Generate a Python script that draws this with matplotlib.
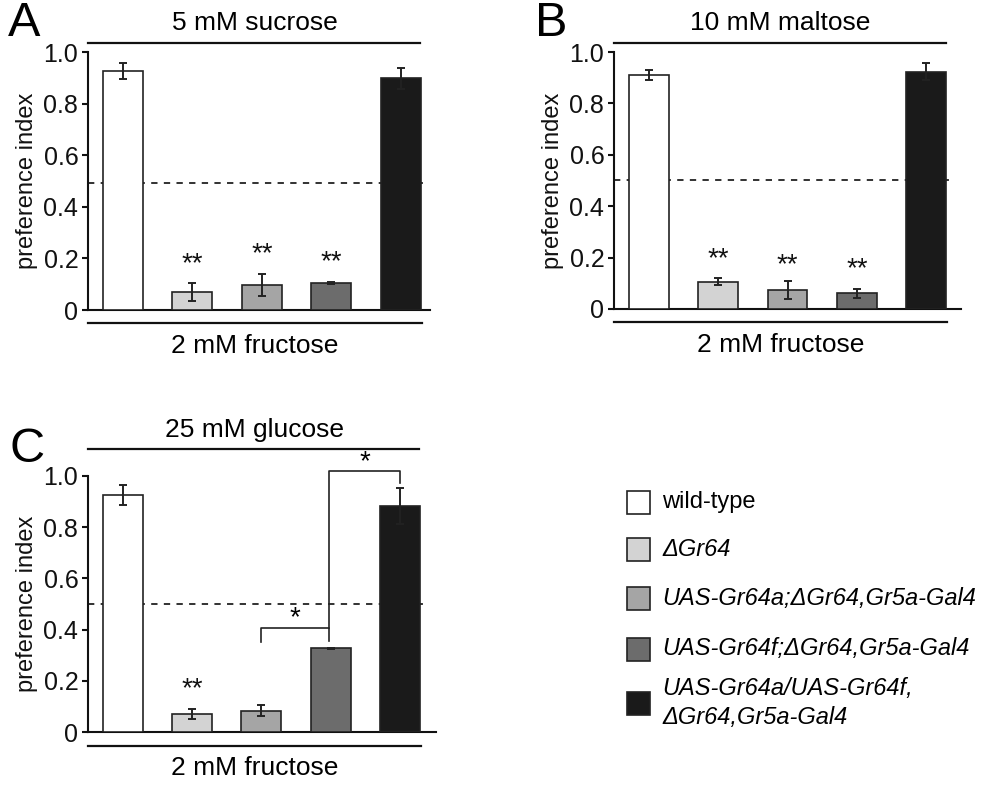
import matplotlib
matplotlib.use("Agg")
import matplotlib.pyplot as plt
from matplotlib.patches import Rectangle

plt.rcParams['font.family'] = ['Liberation Sans', 'DejaVu Sans']

# genotypes, in bar order
genotypes = ["wild-type", "\u0394Gr64", "UAS-Gr64a;\u0394Gr64,Gr5a-Gal4",
             "UAS-Gr64f;\u0394Gr64,Gr5a-Gal4",
             "UAS-Gr64a/UAS-Gr64f,\n\u0394Gr64,Gr5a-Gal4"]
colors = ["#ffffff", "#d3d3d3", "#a5a5a5", "#6c6c6c", "#1a1a1a"]

# preference index values
sucrose_mean = [0.925, 0.068, 0.097, 0.106, 0.898]
sucrose_err = [0.031, 0.035, 0.044, 0.004, 0.040]
maltose_mean = [0.911, 0.106, 0.074, 0.061, 0.923]
maltose_err = [0.020, 0.014, 0.036, 0.017, 0.033]
glucose_mean = [0.925, 0.071, 0.084, 0.327, 0.883]
glucose_err = [0.040, 0.020, 0.022, 0.003, 0.070]

sucrose_stars = ["", "**", "**", "**", ""]
maltose_stars = ["", "**", "**", "**", ""]
glucose_stars = ["", "**", "", "", ""]

W, H = 993, 787
fig = plt.figure(figsize=(W / 100, H / 100), dpi=100)


def panel(rect_px, means, errs, stars, title, letter, right, top_line, title_y, star_gap):
    l, t, r, b = rect_px
    ax = fig.add_axes([l / W, 1 - b / H, (r - l) / W, (b - t) / H])
    x = list(range(len(means)))
    ax.bar(x, means, width=0.575, color=colors, edgecolor="#222222", linewidth=1.2, zorder=3)
    ax.errorbar(x, means, yerr=errs, fmt="none", ecolor="#222222", elinewidth=1.4,
                capsize=3.2, capthick=1.4, zorder=4)
    ax.plot([-0.5, 4.37], [0.5 if letter != "A" else 0.492] * 2, ls=(0, (3.5, 3.5)),
            color="#222222", lw=1.3, zorder=2)
    for i, s in enumerate(stars):
        if s:
            ax.text(i, means[i] + errs[i] + star_gap[i], s, ha="center", va="center",
                    fontsize=20, color="#111111")
    ax.set_xlim(-0.5, right)
    ax.set_ylim(0, 1.0)
    ax.set_yticks([0, 0.2, 0.4, 0.6, 0.8, 1.0])
    ax.set_yticklabels(["0", "0.2", "0.4", "0.6", "0.8", "1.0"])
    ax.set_xticks([])
    for side in ("top", "right"):
        ax.spines[side].set_visible(False)
    for side in ("left", "bottom"):
        ax.spines[side].set_linewidth(1.5)
        ax.spines[side].set_color("#111111")
    ax.tick_params(axis="y", length=4, width=1.5, labelsize=18, pad=3, colors="#111111")
    ax.set_ylabel("preference index", fontsize=17, labelpad=4, color="#111111")
    ax.plot([-0.5, 4.28], [top_line, top_line], color="#111111", lw=1.6, clip_on=False)
    ax.plot([-0.5, 4.3], [-0.052, -0.052], color="#111111", lw=1.6, clip_on=False)
    ax.text(1.9, title_y, title, ha="center", va="center", fontsize=19, clip_on=False)
    ax.text(1.9, -0.14, "2 mM fructose", ha="center", va="center", fontsize=19, clip_on=False)
    return ax


panel((88, 52, 430, 310), sucrose_mean, sucrose_err, sucrose_stars, "5 mM sucrose", "A",
      4.42, 1.035, 1.112, [0, 0.075, 0.075, 0.075, 0])
panel((614, 52, 961, 309), maltose_mean, maltose_err, maltose_stars, "10 mM maltose", "B",
      4.5, 1.035, 1.112, [0, 0.075, 0.06, 0.075, 0])
axc = panel((88, 475.7, 436, 732.3), glucose_mean, glucose_err, glucose_stars, "25 mM glucose", "C",
            4.52, 1.104, 1.178, [0, 0.077, 0, 0, 0])

# significance brackets in panel C
axc.plot([2, 2, 2.98, 2.98], [0.353, 0.405, 0.405, 0.357], color="#222222", lw=1.2, clip_on=False)
axc.plot([2.98, 2.98, 4, 4], [0.405, 1.019, 1.019, 0.973], color="#222222", lw=1.2, clip_on=False)
axc.text(2.49, 0.445, "*", ha="center", va="center", fontsize=20, clip_on=False)
axc.text(3.49, 1.053, "*", ha="center", va="center", fontsize=20, clip_on=False)

# panel letters
fig.text(24 / W, 1 - 23 / H, "A", fontsize=35, ha="center", va="center")
fig.text(551 / W, 1 - 23 / H, "B", fontsize=35, ha="center", va="center")
fig.text(27 / W, 1 - 449 / H, "C", fontsize=35, ha="center", va="center")

# legend drawn by hand
legend_y = [502, 549, 598, 649, 703]
for i, (g, c) in enumerate(zip(genotypes, colors)):
    yc = legend_y[i]
    fig.patches.append(Rectangle((627 / W, 1 - (yc + 11.5) / H), 23 / W, 23 / H,
                                 transform=fig.transFigure, facecolor=c,
                                 edgecolor="#222222", linewidth=1.2))
    fig.text(662 / W, 1 - yc / H, g, fontsize=17, ha="left", va="center",
             style="normal" if i == 0 else "italic", linespacing=1.3)

fig.savefig("out.png", dpi=100)
